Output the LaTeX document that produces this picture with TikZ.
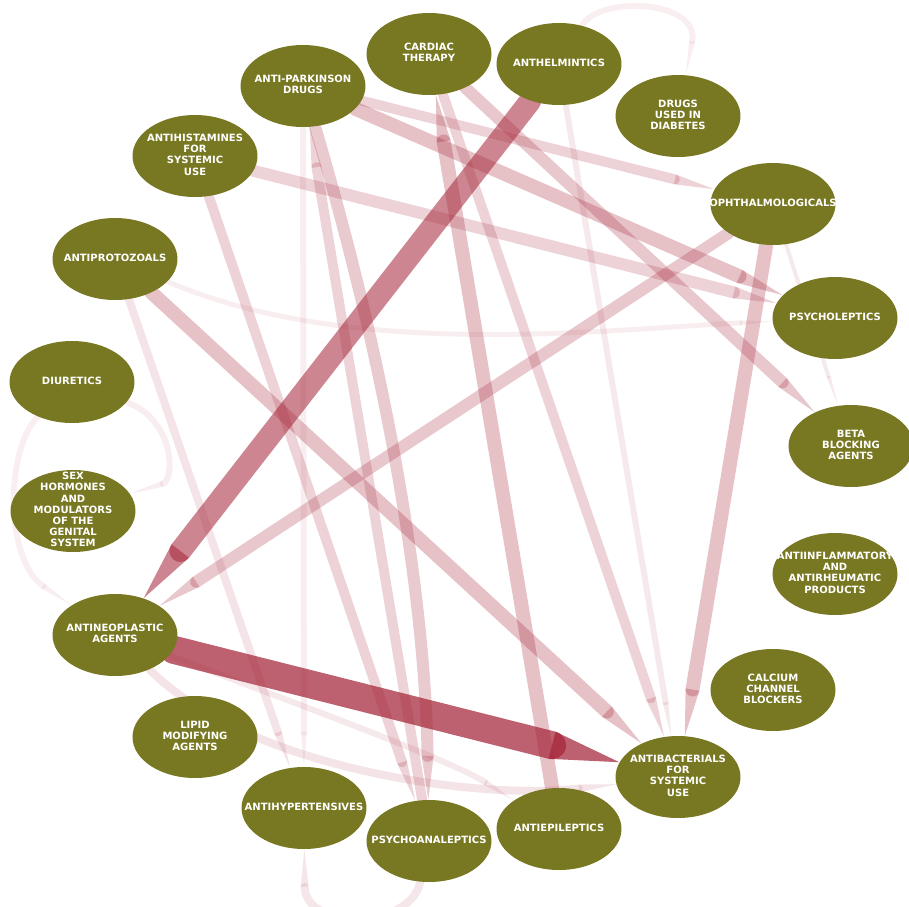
\documentclass[tikz,border=0pt]{standalone}
\usepackage{fontspec}
\setsansfont{DejaVu Sans}
\usepackage{xcolor}
\usetikzlibrary{arrows.meta,shapes.geometric,backgrounds}

\definecolor{olivenode}{RGB}{120,120,34}
\definecolor{edgered}{RGB}{164,35,55}
\newcommand{\drugtext}[1]{\smash{\raisebox{-1.5pt}{\makebox[0pt]{\begin{tabular}{@{}c@{}}#1\end{tabular}}}}}

\begin{document}
\begin{tikzpicture}[x=0.02cm, y=-0.02cm,
    drug/.style={ellipse, fill=olivenode, minimum width=2.5cm, minimum height=1.64cm,
        inner sep=0pt, text=white, font=\sffamily\bfseries\fontsize{5.7}{6.4}\selectfont},
    flow/.style 2 args={draw=edgered, line cap=round, line width=#1*0.02cm, opacity=#2,
        -{Triangle[width=0pt 1, length=14pt 1.6, line width=0pt]}}]
    \useasboundingbox (0,0) rectangle (909,906);

    % drug classes round the circle
    \node[drug] (cardiac) at (429,54) {\drugtext{CARDIAC\\THERAPY}};
    \node[drug] (anthel) at (559,64) {\drugtext{ANTHELMINTICS}};
    \node[drug] (parkin) at (303,86) {\drugtext{ANTI-PARKINSON\\DRUGS}};
    \node[drug] (diabet) at (678,116) {\drugtext{DRUGS\\USED IN\\DIABETES}};
    \node[drug] (antihist) at (195,156) {\drugtext{ANTIHISTAMINES\\FOR\\SYSTEMIC\\USE}};
    \node[drug] (ophth) at (773,204) {\drugtext{OPHTHALMOLOGICALS}};
    \node[drug] (protoz) at (115,259) {\drugtext{ANTIPROTOZOALS}};
    \node[drug] (psycholep) at (835,318) {\drugtext{PSYCHOLEPTICS}};
    \node[drug] (diuret) at (72,382) {\drugtext{DIURETICS}};
    \node[drug] (beta) at (851,446) {\drugtext{BETA\\BLOCKING\\AGENTS}};
    \node[drug] (sexhorm) at (73,511) {\drugtext{SEX\\HORMONES\\AND\\MODULATORS\\OF THE\\GENITAL\\SYSTEM}};
    \node[drug] (antiinfl) at (835,574) {\drugtext{ANTIINFLAMMATORY\\AND\\ANTIRHEUMATIC\\PRODUCTS}};
    \node[drug] (antineo) at (115,635) {\drugtext{ANTINEOPLASTIC\\AGENTS}};
    \node[drug] (calcium) at (773,690) {\drugtext{CALCIUM\\CHANNEL\\BLOCKERS}};
    \node[drug] (lipid) at (195,737) {\drugtext{LIPID\\MODIFYING\\AGENTS}};
    \node[drug] (antibact) at (678,777) {\drugtext{ANTIBACTERIALS\\FOR\\SYSTEMIC\\USE}};
    \node[drug] (antihyp) at (304,808) {\drugtext{ANTIHYPERTENSIVES}};
    \node[drug] (antiepi) at (559,829) {\drugtext{ANTIEPILEPTICS}};
    \node[drug] (psychoan) at (429,841) {\drugtext{PSYCHOANALEPTICS}};

    \begin{scope}[on background layer]
        % faint arcs
        \draw[flow={6}{0.08}] (diuret) .. controls (175,420) and (175,480) .. (sexhorm);
        \draw[flow={6}{0.07}] (diuret) .. controls (5,450) and (5,560) .. (antineo);
        \draw[flow={6}{0.07}] (anthel) .. controls (600,-5) and (700,0) .. (diabet);
        \draw[flow={8}{0.11}] (psychoan) .. controls (410,930) and (305,930) .. (antihyp);
        \draw[flow={8}{0.12}] (antineo) .. controls (250,770) and (480,800) .. (antibact);
        \draw[flow={6}{0.10}] (antineo) .. controls (300,705) and (450,760) .. (antiepi);
        \draw[flow={5}{0.08}] (protoz) .. controls (350,360) and (600,330) .. (psycholep);
        % faint straight ones
        \draw[flow={6}{0.08}] (parkin) -- (antihyp);
        \draw[flow={8}{0.12}] (protoz) -- (antihyp);
        \draw[flow={6}{0.10}] (anthel) -- (antibact);
        \draw[flow={4}{0.10}] (ophth) -- (beta);
        % main flows
        \draw[flow={10}{0.20}] (antihist) -- (psychoan);
        \draw[flow={10}{0.20}] (psychoan) -- (parkin);
        \draw[flow={12}{0.24}] (parkin) .. controls (390,380) and (425,600) .. (psychoan);
        \draw[flow={14}{0.28}] (antiepi) -- (cardiac);
        \draw[flow={10}{0.20}] (cardiac) -- (antibact);
        \draw[flow={10}{0.20}] (parkin) -- (ophth);
        \draw[flow={12}{0.20}] (antihist) -- (psycholep);
        \draw[flow={14}{0.28}] (parkin) -- (psycholep);
        \draw[flow={12}{0.25}] (cardiac) -- (beta);
        \draw[flow={14}{0.28}] (protoz) -- (antibact);
        \draw[flow={14}{0.28}] (ophth) -- (antibact);
        \draw[flow={12}{0.25}] (ophth) -- (antineo);
        \draw[flow={22}{0.55}] (anthel) -- (antineo);
        \draw[flow={28}{0.72}] (antineo) -- (antibact);
    \end{scope}
\end{tikzpicture}
\end{document}
